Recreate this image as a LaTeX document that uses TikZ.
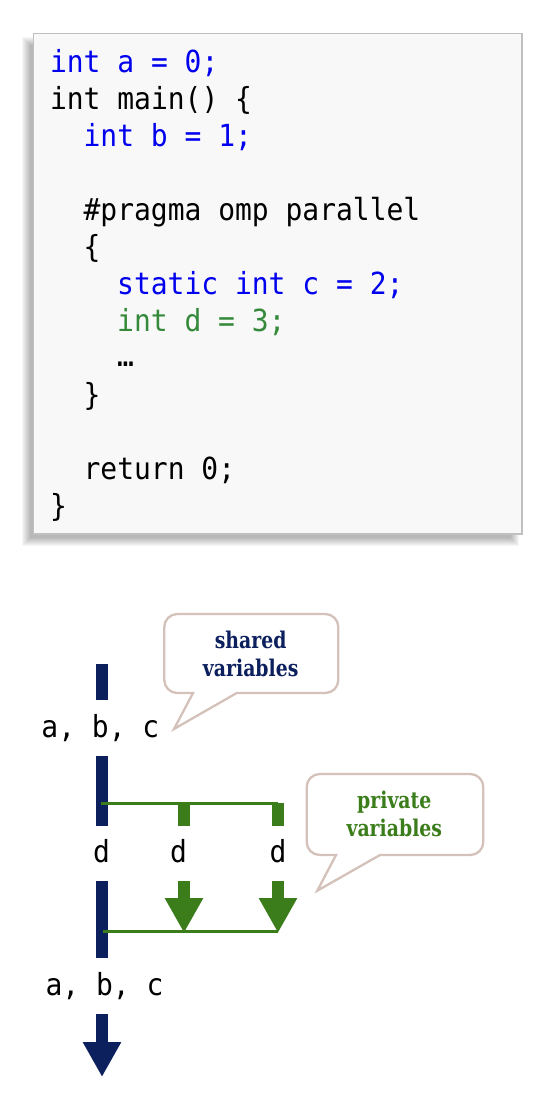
\documentclass[tikz,border=0pt]{standalone}
\usepackage{fontspec}
\setmonofont[FakeStretch=0.92]{DejaVu Sans Mono}
\newfontfamily\calloutfont[FakeStretch=0.82]{DejaVu Serif}
\usetikzlibrary{arrows.meta}
\definecolor{codeblue}{RGB}{0,0,238}
\definecolor{codegreen}{RGB}{52,138,58}
\definecolor{threadnavy}{RGB}{12,32,94}
\definecolor{threadgreen}{RGB}{58,125,26}
\definecolor{calloutline}{RGB}{212,194,186}
\definecolor{boxline}{RGB}{192,192,192}
\definecolor{boxfill}{RGB}{248,248,248}

\begin{document}
\begin{tikzpicture}[x=1pt, y=-1pt,
    code/.style = {anchor=base west, inner sep=0pt, outer sep=0pt, font=\fontsize{30.4}{30}\ttfamily},
    var/.style = {anchor=base, inner sep=0pt, outer sep=0pt, font=\fontsize{30.4}{30}\ttfamily},
    navybar/.style = {draw=threadnavy, line width=12pt},
    greenbar/.style = {draw=threadgreen, line width=11.5pt},
    greenline/.style = {draw=threadgreen, line width=3.3pt},
    bighead/.style = {-{Triangle[width=36pt, length=35pt]}},
    callout/.style = {draw=calloutline, line width=2.3pt, fill=white, rounded corners=13pt},
    callouttext/.style = {anchor=base, align=center, inner sep=0pt, font=\calloutfont\bfseries\fontsize{23}{28}\selectfont}
  ]
  \useasboundingbox (0,0) rectangle (552,1112);

  % code box and its soft shadow
  \foreach \s in {-4,...,4}
    \fill[black, opacity=0.035] (26-\s,41-\s) rectangle (515+\s,542+\s);
  \draw[draw=boxline, line width=1.5pt, fill=boxfill] (33.5,33.5) rectangle (522,534);

  \node[code, text=codeblue] (line0) at (50,72.4) {int a = 0;};
  \node[code] (line1) at (50,109.4) {int main() \{};
  \node[code, text=codeblue] (line2) at (83.6,146.4) {int b = 1;};
  \node[code] (line4) at (83.6,220.4) {\#pragma omp parallel};
  \node[code] (line5) at (83.6,257.4) {\{};
  \node[code, text=codeblue] (line6) at (117.2,294.4) {static int c = 2;};
  \node[code, text=codegreen] (line7) at (117.2,331.4) {int d = 3;};
  \node[code] (line8) at (117.2,366) {…};
  \node[code] (line9) at (83.6,405.4) {\}};
  \node[code] (line11) at (83.6,479.4) {return 0;};
  \node[code] (line12) at (50,516.4) {\}};

  % threads
  \coordinate (m0) at (102,664);
  \coordinate (m1) at (102,700);
  \coordinate (m2) at (102,756);
  \coordinate (m3) at (102,826);
  \coordinate (m4) at (102,881);
  \coordinate (m5) at (102,958);
  \coordinate (m6) at (102,1014);
  \coordinate (m7) at (102,1077);
  \draw[navybar] (m0) -- (m1);
  \draw[navybar] (m2) -- (m3);
  \draw[navybar] (m4) -- (m5);
  \draw[navybar, bighead] (m6) -- (m7);

  \node[var] (abc1) at (100.4,737) {a, b, c};
  \node[var] (abc2) at (104.5,995) {a, b, c};
  \node[var] (d1) at (101.5,862.7) {d};
  \node[var] (d2) at (178.5,862.7) {d};
  \node[var] (d3) at (278,862.7) {d};

  \coordinate (fork) at (100.7,803.3);
  \coordinate (forkend) at (278,803.3);
  \coordinate (s1) at (184,803);
  \coordinate (s1end) at (184,826);
  \coordinate (s2) at (278,803);
  \coordinate (s2end) at (278,826);
  \coordinate (h1) at (184,881);
  \coordinate (h1end) at (184,933);
  \coordinate (h2) at (278,881);
  \coordinate (h2end) at (278,933);
  \coordinate (join) at (102.7,931.7);
  \coordinate (joinend) at (278,931.7);

  \draw[greenline] (fork) -- (forkend);
  \draw[greenbar] (s1) -- (s1end);
  \draw[greenbar] (s2) -- (s2end);
  \draw[greenbar, bighead] (h1) -- (h1end);
  \draw[greenbar, bighead] (h2) -- (h2end);
  \draw[greenline] (join) -- (joinend);

  % callouts
  \draw[callout] (164.3,650) -- (164.3,614) -- (338.3,614) -- (338.3,693)
    [sharp corners] -- (236.7,693) -- (174,729) -- (193,693) [rounded corners=13pt] -- (164.3,693) -- cycle;
  \node[callouttext, text=threadnavy] (shared) at (250.7,676) {shared\\variables};

  \draw[callout] (306.7,810) -- (306.7,774) -- (483.3,774) -- (483.3,855)
    [sharp corners] -- (380,855) -- (317.3,890.7) -- (336,855) [rounded corners=13pt] -- (306.7,855) -- cycle;
  \node[callouttext, text=threadgreen] (private) at (394.3,836.7) {private\\variables};
\end{tikzpicture}
\end{document}
